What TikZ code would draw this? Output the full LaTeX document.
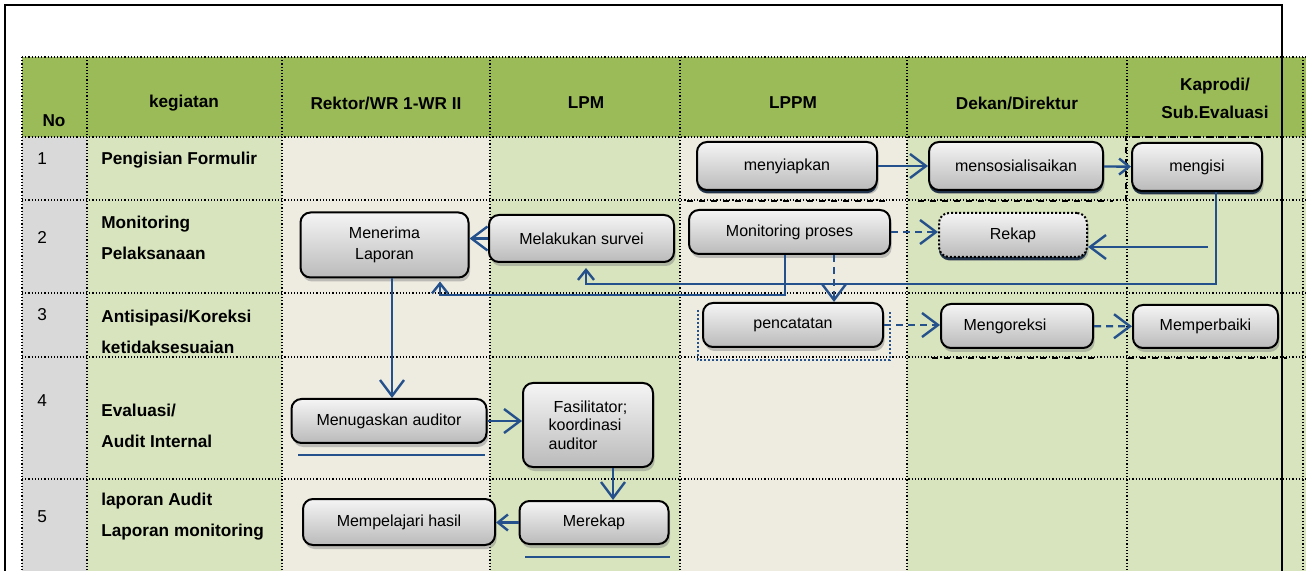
\documentclass[tikz,border=0pt]{standalone}
\usepackage{fontspec}
\setmainfont{Liberation Sans}
\usepackage{tikz}
\usetikzlibrary{arrows.meta, calc, shadows}

\definecolor{headgreen}{HTML}{9BBB59}
\definecolor{cellgreen}{HTML}{D7E4BD}
\definecolor{cellbeige}{HTML}{EEECE1}
\definecolor{cellgray}{HTML}{D9D9D9}
\definecolor{flowblue}{HTML}{24508C}

\begin{document}
\begin{tikzpicture}[x=0.5pt, y=-0.5pt,
  task/.style={draw=black, line width=1pt, rounded corners=5pt,
    top color=black!4, bottom color=black!27,
    drop shadow={shadow xshift=0.8pt, shadow yshift=-2pt, opacity=0.45},
    inner sep=0pt, align=center, font=\fontsize{8}{10.8}\selectfont},
  darkbar/.style={drop shadow={shadow xshift=0pt, shadow yshift=-1.6pt, fill=flowblue!45!black, opacity=0.9}},
  head/.style={font=\bfseries\fontsize{8.6}{14}\selectfont, align=center},
  rowno/.style={anchor=west, inner sep=0pt, font=\fontsize{8.6}{10}\selectfont},
  rowtxt/.style={anchor=west, inner sep=0pt, align=left, font=\bfseries\fontsize{8.6}{15.5}\selectfont},
  flow/.style={draw=flowblue, line width=1.2pt, -{Straight Barb[length=8pt, width=12pt]}},
  flowsmall/.style={flow, -{Straight Barb[length=5pt, width=8pt]}},
  flowdash/.style={flow, dash pattern=on 3.5pt off 2.5pt},
  cellline/.style={densely dotted, line width=0.6pt},
  smear/.style={dashed, line width=1pt}]
\useasboundingbox (0,0) rectangle (1306,571);

% table background
\fill[headgreen] (22,57) rectangle (1306,137);
\fill[cellgray] (22,137) rectangle (87,571);
\fill[cellgreen] (87,137) rectangle (282,571);
\fill[cellbeige] (282,137) rectangle (490,571);
\fill[cellgreen] (490,137) rectangle (680,571);
\fill[cellbeige] (680,137) rectangle (907,571);
\fill[cellgreen] (907,137) rectangle (1306,571);
\foreach \x in {22,87,282,490,680,907,1127,1303} \draw[cellline] (\x,57) -- (\x,571);
\foreach \y in {57,137,200,293,357,479} \draw[cellline] (22,\y) -- (1306,\y);

% header
\node[head] (hno) at (54,121) {No};
\node[head] (hkeg) at (184,103) {kegiatan};
\node[head] (hrek) at (386,103) {Rektor/WR 1-WR II};
\node[head] (hlpm) at (586,103) {LPM};
\node[head] (hlppm) at (793,103) {LPPM};
\node[head] (hdek) at (1017,103) {Dekan/Direktur};
\node[head] (hkap) at (1215,98) {Kaprodi/\\Sub.Evaluasi};

% rows
\node[rowno] (n1) at (37,159) {1};
\node[rowtxt] (k1) at (101,160) {Pengisian Formulir};
\node[rowno] (n2) at (37,237) {2};
\node[rowtxt] (k2) at (101,237.5) {Monitoring\\Pelaksanaan};
\node[rowno] (n3) at (37,315) {3};
\node[rowtxt] (k3) at (101,331.5) {Antisipasi/Koreksi\\ketidaksesuaian};
\node[rowno] (n4) at (37,401) {4};
\node[rowtxt] (k4) at (101,425.5) {Evaluasi/\\Audit Internal};
\node[rowno] (n5) at (37,517) {5};
\node[rowtxt] (k5) at (101,517) {laporan Audit\\Laporan monitoring};

% stray borders of the source table
\draw[smear] (687,201) -- (887,201);
\draw[smear] (918,201) -- (1113,201);
\draw[smear] (1126,201) -- (1126,137) -- (1270,137);
\draw[smear] (932,358) -- (1094,358);
\draw[smear] (1128,358) -- (1287,358);
\draw[flowblue, densely dotted, line width=1pt] (698,310) -- (698,360) -- (890,360) -- (890,310);
\draw[flowblue, line width=1.2pt] (298,455) -- (485,455);
\draw[flowblue, line width=1.2pt] (525,557) -- (670,557);

% activities
\node[task, darkbar, minimum width=90pt, minimum height=24pt] (menyiapkan) at (787,166) {menyiapkan};
\node[task, darkbar, minimum width=87pt, minimum height=24pt] (mensos) at (1016,166) {mensosialisaikan};
\node[task, darkbar, minimum width=65pt, minimum height=24pt] (mengisi) at (1197,167) {mengisi};
\node[task, minimum width=84pt, minimum height=32.5pt] (menerima) at (384.5,245) {\raisebox{-1.5pt}{Menerima}\\\raisebox{-1.5pt}{Laporan}};
\node[task, minimum width=92.5pt, minimum height=23.5pt] (survei) at (581.5,238.5) {Melakukan survei};
\node[task, minimum width=100.5pt, minimum height=22pt] (monitoring) at (789.5,232) {Monitoring proses};
\node[task, darkbar, dash pattern=on 1pt off 1pt, minimum width=74pt, minimum height=22pt] (rekap) at (1013,235) {Rekap};
\node[task, minimum width=90pt, minimum height=22pt] (pencatatan) at (793,325) {pencatatan};
\node[task, minimum width=76pt, minimum height=22pt] (mengoreksi) at (1017,326) {Mengoreksi\hspace{12pt}};
\node[task, minimum width=72.5pt, minimum height=21.5pt] (memperbaiki) at (1205.5,326.5) {Memperbaiki};
\node[task, minimum width=97.5pt, minimum height=22pt] (menugaskan) at (389,421) {Menugaskan auditor};
\node[task, align=left, font=\fontsize{8}{9.2}\selectfont, minimum width=65pt, minimum height=42pt] (fasilitator) at (588,425) {\hspace{2.5pt}Fasilitator;\\koordinasi\\auditor};
\node[task, minimum width=96pt, minimum height=23pt] (mempelajari) at (399,522) {Mempelajari hasil};
\node[task, minimum width=74.5pt, minimum height=21.5pt] (merekap) at (594,522.5) {Merekap};

% flow
\draw[flow] (menyiapkan) -- (mensos);
\draw[flowsmall] (mensos) -- (mengisi);
\draw[flow] (survei.west) -- (survei.west -| menerima.east);
\draw[flowdash] (monitoring.east) -- (monitoring.east -| rekap.west);
\coordinate (kturn) at (1216,284);
\coordinate (kbranch) at (1208,247);
\coordinate (sturn) at (586,284);
\draw[flowsmall, shorten >=2.5pt] (mengisi.south -| kturn) -- (kturn) -- (sturn) -- (sturn |- survei.south);
\draw[flow] (kbranch) -- (kbranch -| rekap.east);
\coordinate (mturn) at (785,295);
\coordinate (lturn) at (440,295);
\draw[flowsmall, shorten >=1.5pt] (monitoring.south -| mturn) -- (mturn) -- (lturn) -- (lturn |- menerima.south);
\coordinate (pdrop) at (834,0);
\draw[flowdash] (monitoring.south -| pdrop) -- (pencatatan.north -| pdrop);
\draw[flowdash] (pencatatan.east) -- (pencatatan.east -| mengoreksi.west);
\draw[flowdash] (mengoreksi) -- (memperbaiki);
\coordinate (rdrop) at (392,0);
\draw[flow] (menerima.south -| rdrop) -- (menugaskan.north -| rdrop);
\draw[flow] (menugaskan.east) -- (menugaskan.east -| fasilitator.west);
\coordinate (fdrop) at (613,0);
\draw[flow] (fasilitator.south -| fdrop) -- (merekap.north -| fdrop);
\draw[flowsmall] (merekap.west) -- (merekap.west -| mempelajari.east);

% frame
\draw[line width=1pt] (5,571) -- (5,5) -- (1282,5) -- (1282,571);
\end{tikzpicture}
\end{document}
